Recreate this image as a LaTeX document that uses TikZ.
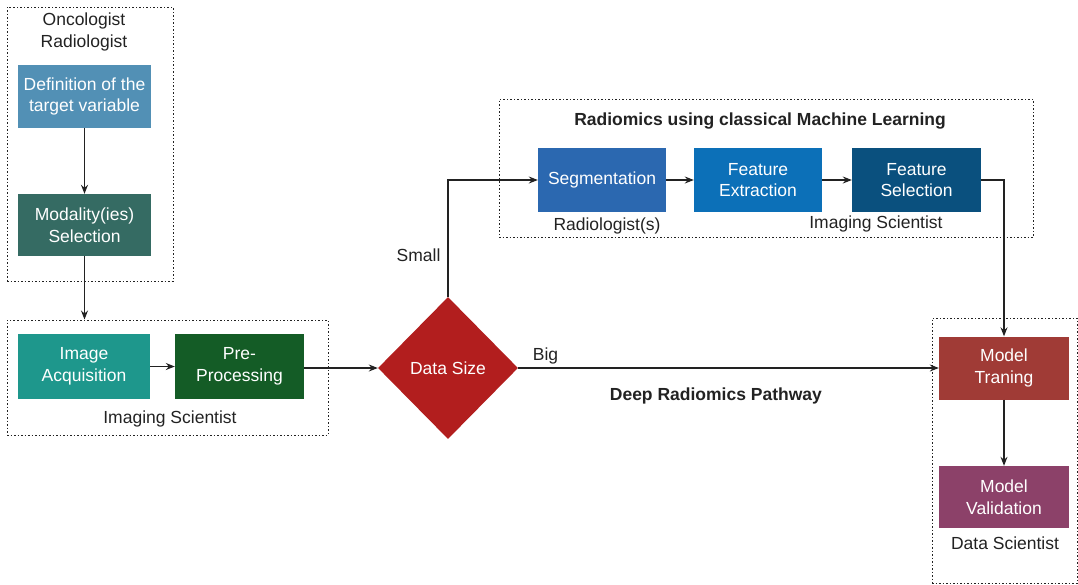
\documentclass[tikz,border=0pt]{standalone}
\usepackage{fontspec}
\setmainfont{Liberation Sans}
\usetikzlibrary{shapes,shapes.geometric,arrows,arrows.meta,calc}
\definecolor{cdef}{RGB}{82,144,181}
\definecolor{cmod}{RGB}{53,107,99}
\definecolor{cacq}{RGB}{30,151,140}
\definecolor{cprep}{RGB}{20,92,38}
\definecolor{cdata}{RGB}{178,30,30}
\definecolor{cseg}{RGB}{43,104,176}
\definecolor{cfext}{RGB}{12,112,184}
\definecolor{cfsel}{RGB}{10,80,126}
\definecolor{ctrain}{RGB}{160,59,54}
\definecolor{cvalid}{RGB}{140,65,105}
\definecolor{ink}{RGB}{34,34,34}
\tikzstyle{line} = [draw, -{Stealth[length=9pt, width=7pt, inset=3pt]}, color=ink, line width=1.1pt]
\tikzstyle{block} = [rectangle, text=white, align=center, minimum width=132pt, minimum height=64pt, inner sep=0pt, font=\fontsize{17.5}{21.5}\selectfont]
\tikzstyle{decision} = [diamond, text=white, fill=cdata, minimum width=140pt, minimum height=142pt, inner sep=0pt, font=\fontsize{17.5}{21.5}\selectfont]
\tikzstyle{group} = [draw=ink, line width=1pt, dash pattern=on 1.5pt off 2pt, rectangle, inner sep=0pt]
\tikzstyle{role} = [text=ink, align=center, inner sep=0pt, font=\fontsize{17.5}{22.5}\selectfont]

\begin{document}
\begin{tikzpicture}[x=1pt, y=-1pt]
        \useasboundingbox (0,0) rectangle (1078,584);
        % groups
        \node[group, minimum width=166pt, minimum height=274pt] (expertgroup) at (90,144) {};
        \node[group, minimum width=321pt, minimum height=115pt] (imggroup) at (167.5,377.5) {};
        \node[group, minimum width=534pt, minimum height=138pt] (mlgroup) at (766,168) {};
        \node[group, minimum width=145pt, minimum height=265pt] (datagroup) at (1004.5,450.5) {};
        % blocks
        \node[block, fill=cdef, minimum width=133pt, minimum height=63pt] (target) at (84.5,96.5) {Definition of the\\target variable};
        \node[block, fill=cmod, minimum width=133pt, minimum height=62pt] (modality) at (84.5,225) {Modality(ies)\\Selection};
        \node[block, fill=cacq, minimum height=65pt] (acquisition) at (84,366.5) {Image\\Acquisition};
        \node[block, fill=cprep, minimum width=129pt, minimum height=65pt] (preproc) at (239.5,366.5) {Pre-\\Processing};
        \node[decision] (datasize) at (448,368) {Data Size};
        \node[block, fill=cseg, minimum width=128pt] (segment) at (602,180) {Segmentation};
        \node[block, fill=cfext, minimum width=128pt] (extract) at (758,180) {Feature\\Extraction};
        \node[block, fill=cfsel, minimum width=129pt] (select) at (916.5,180) {Feature\\Selection};
        \node[block, fill=ctrain, minimum width=130pt, minimum height=63pt] (training) at (1004,368) {Model\\Traning};
        \node[block, fill=cvalid, minimum width=130pt, minimum height=62pt] (validation) at (1004,497) {Model\\Validation};
        % roles
        \node[role] (expert) at (84,32) {Oncologist\\Radiologist};
        \node[role] (imgsci) at (170,419) {Imaging Scientist};
        \node[role, font=\fontsize{17.5}{21}\selectfont\bfseries] (mltitle) at (760,121) {Radiomics using classical Machine Learning};
        \node[role] (radiol) at (607,226) {Radiologist(s)};
        \node[role] (imgsci2) at (876,224) {Imaging Scientist};
        \node[role] (datasci) at (1005,543) {Data Scientist};
        % connectors
        \path[line] (target) -- (modality);
        \path[line] (modality) -- (modality |- imggroup.north);
        \path[line] (acquisition) -- (preproc);
        \path[line] (preproc.east |- datasize) -- (datasize);
        \path[line] (datasize.north) |- node[role, left=7pt, pos=0.18] {Small} (segment.west);
        \path[line] (datasize) -- node[role, above, pos=0.065, yshift=3pt] {Big} node[role, below, pos=0.47, yshift=-19pt, font=\fontsize{17.5}{21}\selectfont\bfseries] {Deep Radiomics Pathway} (training);
        \path[line] (segment) -- (extract);
        \path[line] (extract) -- (select);
        \path[line] (select.east) -| (training.north);
        \path[line] (training) -- (validation);
    \end{tikzpicture}
\end{document}
